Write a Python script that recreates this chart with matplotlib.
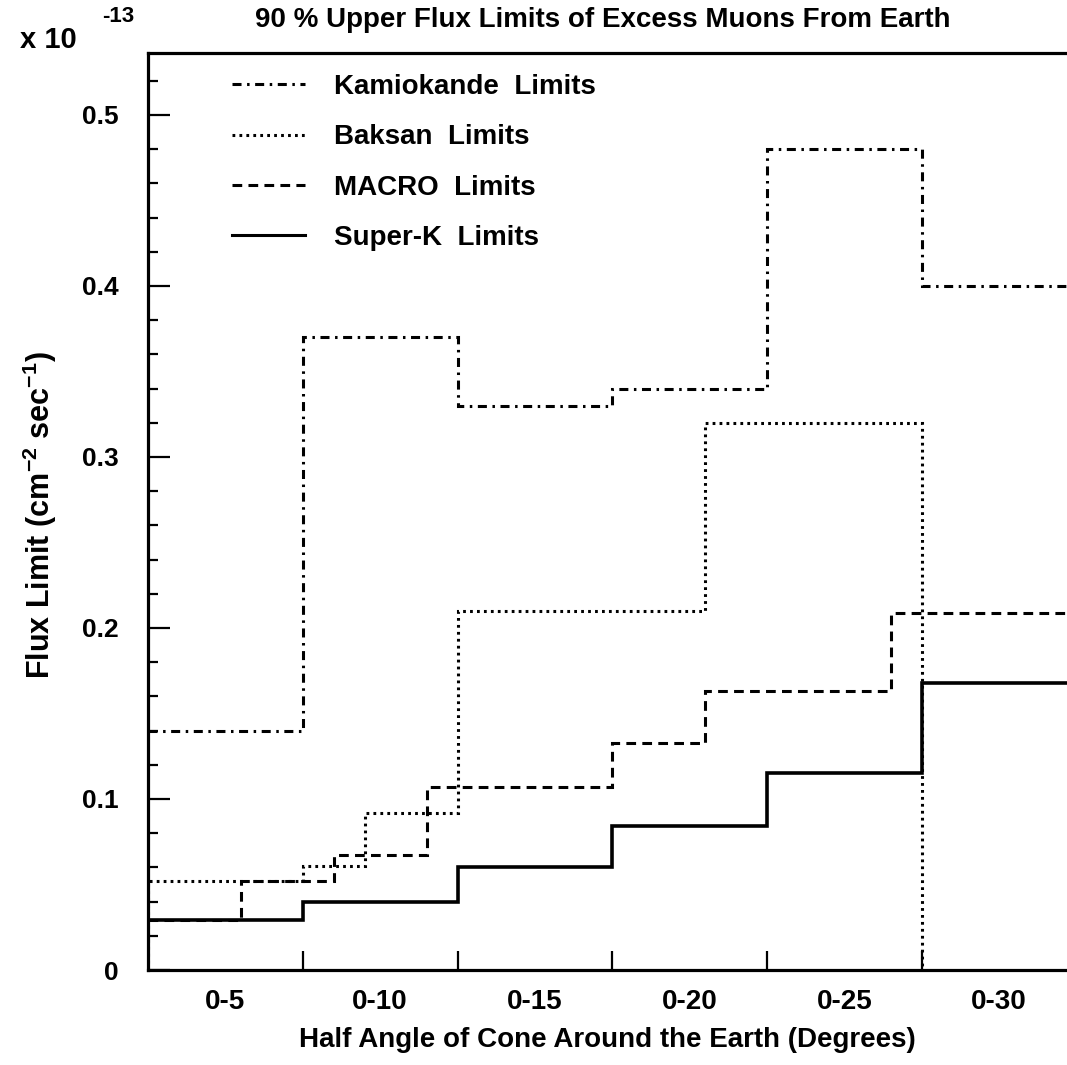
import matplotlib
matplotlib.use("Agg")
import matplotlib.pyplot as plt
from matplotlib.lines import Line2D
from matplotlib.ticker import MultipleLocator, FixedLocator, FuncFormatter, NullFormatter, FixedFormatter

# ---------------- data ----------------
cone_labels = ["0-5", "0-10", "0-15", "0-20", "0-25", "0-30"]
cone_centers = [5, 10, 15, 20, 25, 30]
bin_edges = [7.5, 12.5, 17.5, 22.5, 27.5]

kamioka_edges = [2.5, 7.5, 12.5, 17.5, 22.5, 27.5, 32.5]
kamioka_limits = [0.14, 0.37, 0.33, 0.34, 0.48, 0.40]

baksan_edges = [2.5, 7.5, 9.5, 12.5, 20.5, 27.5]
baksan_limits = [0.052, 0.061, 0.092, 0.21, 0.32]

macro_edges = [2.5, 5.5, 8.5, 11.5, 17.5, 20.5, 26.5, 32.5]
macro_limits = [0.029, 0.052, 0.067, 0.107, 0.133, 0.163, 0.209]

superk_edges = [2.5, 7.5, 12.5, 17.5, 22.5, 27.5, 32.5]
superk_limits = [0.029, 0.040, 0.060, 0.084, 0.115, 0.168]

series_names = ["Kamiokande  Limits", "Baksan  Limits", "MACRO  Limits", "Super-K  Limits"]

# ---------------- style ----------------
NARROW = ['Liberation Sans Narrow', 'Liberation Sans', 'DejaVu Sans']
WIDE = ['Liberation Sans', 'DejaVu Sans']
plt.rcParams['lines.scale_dashes'] = False
plt.rcParams['font.family'] = WIDE
plt.rcParams['font.weight'] = 'bold'

LW = 2.2
styles = {
    'kam': (0, (6.5, 4.0, 1.8, 4.0)),
    'bak': (0, (2.0, 3.0)),
    'mac': (0, (7.0, 4.5)),
    'sk': '-',
}

fig = plt.figure(figsize=(10.67, 10.65), dpi=100)
W, H = 1067.0, 1065.0
x_left, x_px_per_deg = 148.0, 30.95
y_bottom, y_px_per_unit = 970.0, 1710.0
ax = fig.add_axes([x_left / W, (H - y_bottom) / H, 30 * x_px_per_deg / W, (y_bottom - 53) / H])
ax.set_xlim(2.5, 32.5)
ax.set_ylim(0, (y_bottom - 53) / y_px_per_unit)

ax.stairs(kamioka_limits, kamioka_edges, baseline=None, color='black', lw=LW, linestyle=styles['kam'])
ax.stairs(baksan_limits, baksan_edges, baseline=0, color='black', lw=LW, linestyle=styles['bak'])
ax.stairs(macro_limits, macro_edges, baseline=None, color='black', lw=LW, linestyle=styles['mac'])
ax.stairs(superk_limits, superk_edges, baseline=None, color='black', lw=LW + 0.4, linestyle=styles['sk'])

handles = [Line2D([], [], color='black', lw=LW, linestyle=styles[k]) for k in ['kam', 'bak', 'mac', 'sk']]
leg = ax.legend(handles, series_names, loc='upper left', bbox_to_anchor=(60 / 928.6, 1.003),
                frameon=False, handlelength=2.65, handletextpad=1.05, labelspacing=0.88,
                borderpad=0.35, prop={'family': WIDE, 'weight': 'bold', 'size': 20})

for s in ['left', 'top', 'bottom']:
    ax.spines[s].set_linewidth(2.3)
ax.spines['right'].set_visible(False)

# y ticks
ax.yaxis.set_major_locator(MultipleLocator(0.1))
ax.yaxis.set_minor_locator(MultipleLocator(0.02))
ax.yaxis.set_major_formatter(FuncFormatter(lambda v, p: '0' if abs(v) < 1e-9 else f'{v:.1f}'))
ax.tick_params(axis='y', which='major', direction='in', length=16, width=1.6, pad=21,
               labelsize=19)
ax.tick_params(axis='y', which='minor', direction='in', length=7.5, width=1.6)
for t in ax.get_yticklabels():
    t.set_fontweight('bold')

# x ticks: marks at bin boundaries, labels at cone centres
ax.xaxis.set_major_locator(FixedLocator(bin_edges))
ax.xaxis.set_major_formatter(NullFormatter())
ax.xaxis.set_minor_locator(FixedLocator(cone_centers))
ax.xaxis.set_minor_formatter(FixedFormatter(cone_labels))
ax.tick_params(axis='x', which='major', direction='in', length=14, width=1.6)
ax.tick_params(axis='x', which='minor', length=0, pad=14, labelsize=20)
for t in ax.get_xticklabels(minor=True):
    t.set_fontfamily(NARROW)
    t.set_fontweight('bold')

fig.text(607 / W, 1 - 1040 / H, 'Half Angle of Cone Around the Earth (Degrees)',
         ha='center', va='center', fontsize=20, family=NARROW, weight='bold')
fig.text(40 / W, 1 - 515 / H, 'Flux Limit (cm$^{\\mathregular{-2}}$ sec$^{\\mathregular{-1}}$)',
         ha='center', va='center', rotation=90, fontsize=22, family=NARROW, weight='bold')
fig.text(603 / W, 1 - 20 / H, '90 % Upper Flux Limits of Excess Muons From Earth',
         ha='center', va='center', fontsize=20, family=WIDE, weight='bold')
fig.text(20 / W, 1 - 40 / H, 'x 10', ha='left', va='center', fontsize=21, family=WIDE, weight='bold')
fig.text(102 / W, 1 - 17 / H, '-13', ha='left', va='center', fontsize=16, family=WIDE, weight='bold')

fig.savefig('out.png', dpi=100)
